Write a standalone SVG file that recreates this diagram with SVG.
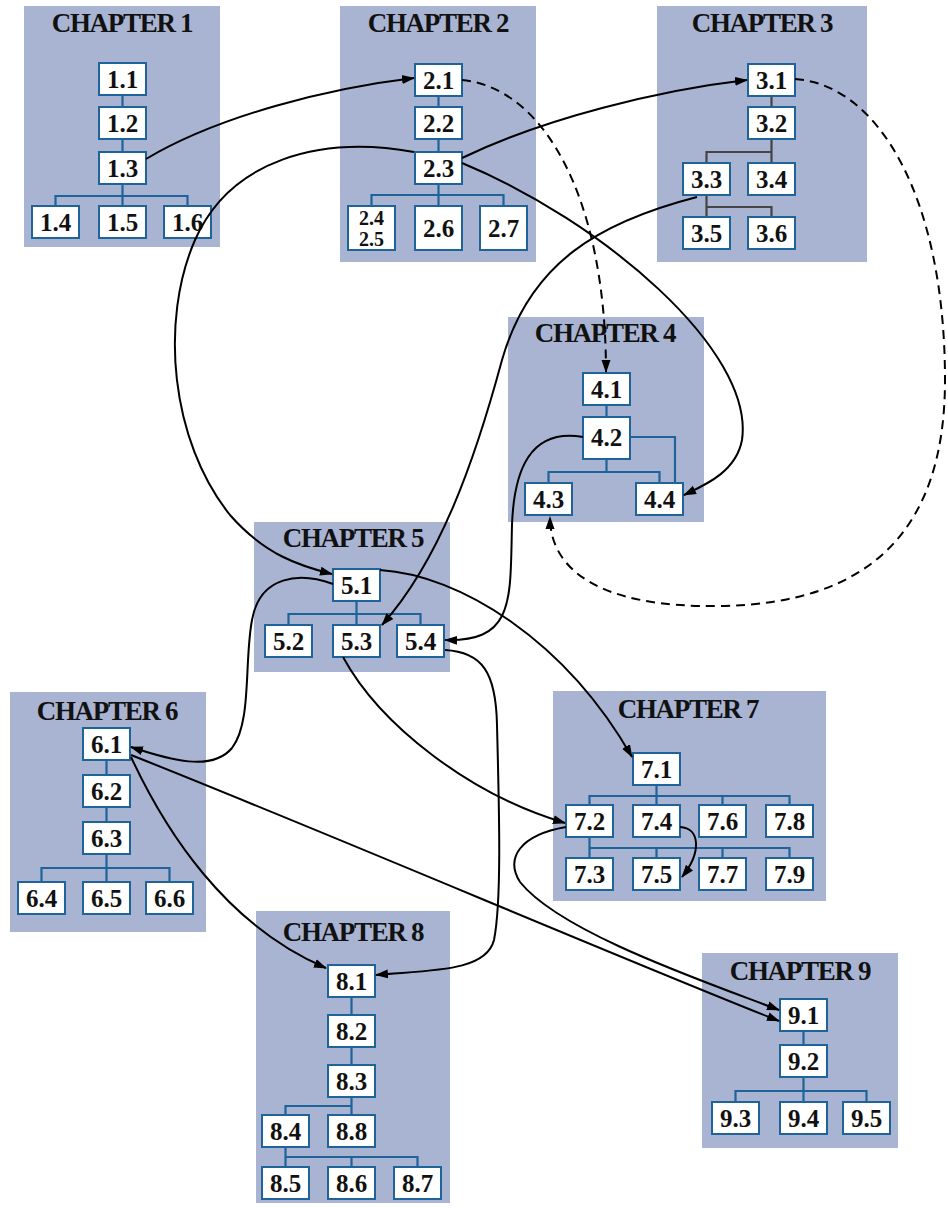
<svg xmlns="http://www.w3.org/2000/svg" width="948" height="1208" viewBox="0 0 948 1208">
<style>
.panel{fill:#a9b4d3}
.box rect{fill:#fff;stroke:#1f639b;stroke-width:2}
.box text{font-family:"Liberation Serif","Times New Roman",serif;font-weight:bold;font-size:25px;text-anchor:middle;fill:#111}
.box text.small{font-size:20px}
.title{font-family:"Liberation Serif","Times New Roman",serif;font-weight:bold;font-size:27px;letter-spacing:-1.3px;text-anchor:middle;fill:#111}
.tree{fill:none;stroke:#1f639b;stroke-width:2.2}
.tree.gray{stroke:#444}
.conn path{fill:none;stroke:#000;stroke-width:2;marker-end:url(#ah)}
.conn path.dash{stroke-dasharray:9 6}
</style>
<defs>
<marker id="ah" markerWidth="13" markerHeight="10" refX="12" refY="5" orient="auto" markerUnits="userSpaceOnUse"><path d="M0,0.5 L13,5 L0,9.5 z" fill="#000"/></marker>
</defs>
<rect width="948" height="1208" fill="#fff"/>

<g id="chapter1">
<rect class="panel" x="24" y="6" width="196" height="241"/>
<text class="title" x="122" y="32">CHAPTER 1</text>
<path class="tree" d="M122.5,95V107M122.5,139V152M122.5,184V196M55.5,206V196H187.5V206M122.5,196V206"/>
<g id="n1.1" class="box"><rect x="99" y="63" width="47" height="32"/><text x="122.5" y="88">1.1</text></g>
<g id="n1.2" class="box"><rect x="99" y="107" width="47" height="32"/><text x="122.5" y="132">1.2</text></g>
<g id="n1.3" class="box"><rect x="99" y="152" width="47" height="32"/><text x="122.5" y="177">1.3</text></g>
<g id="n1.4" class="box"><rect x="32" y="206" width="47" height="32"/><text x="55.5" y="231">1.4</text></g>
<g id="n1.5" class="box"><rect x="99" y="206" width="47" height="32"/><text x="122.5" y="231">1.5</text></g>
<g id="n1.6" class="box"><rect x="164" y="206" width="47" height="32"/><text x="187.5" y="231">1.6</text></g>
</g>

<g id="chapter2">
<rect class="panel" x="340" y="6" width="196" height="256"/>
<text class="title" x="438" y="32">CHAPTER 2</text>
<path class="tree" d="M438.5,96V107M438.5,139V152M438.5,184V195M371.5,206V195H503.5V206M438.5,195V206"/>
<g id="n2.1" class="box"><rect x="415" y="64" width="47" height="32"/><text x="438.5" y="89">2.1</text></g>
<g id="n2.2" class="box"><rect x="415" y="107" width="47" height="32"/><text x="438.5" y="132">2.2</text></g>
<g id="n2.3" class="box"><rect x="415" y="152" width="47" height="32"/><text x="438.5" y="177">2.3</text></g>
<g id="n2.4-2.5" class="box"><rect x="348" y="206" width="47" height="44"/><text class="small" x="371.5" y="225">2.4</text><text class="small" x="371.5" y="246">2.5</text></g>
<g id="n2.6" class="box"><rect x="415" y="206" width="47" height="44"/><text x="438.5" y="237">2.6</text></g>
<g id="n2.7" class="box"><rect x="480" y="206" width="47" height="44"/><text x="503.5" y="237">2.7</text></g>
</g>

<g id="chapter3">
<rect class="panel" x="657" y="6" width="210" height="256"/>
<text class="title" x="762" y="32">CHAPTER 3</text>
<path class="tree gray" d="M771.5,96V107M771.5,139V163M706.5,163V152H771.5M706.5,195V217M706.5,207H771.5V217"/>
<g id="n3.1" class="box"><rect x="748" y="64" width="47" height="32"/><text x="771.5" y="89">3.1</text></g>
<g id="n3.2" class="box"><rect x="748" y="107" width="47" height="32"/><text x="771.5" y="132">3.2</text></g>
<g id="n3.3" class="box"><rect x="683" y="163" width="47" height="32"/><text x="706.5" y="188">3.3</text></g>
<g id="n3.4" class="box"><rect x="748" y="163" width="47" height="32"/><text x="771.5" y="188">3.4</text></g>
<g id="n3.5" class="box"><rect x="683" y="217" width="47" height="32"/><text x="706.5" y="242">3.5</text></g>
<g id="n3.6" class="box"><rect x="748" y="217" width="47" height="32"/><text x="771.5" y="242">3.6</text></g>
</g>

<g id="chapter4">
<rect class="panel" x="508" y="317" width="196" height="205"/>
<text class="title" x="605" y="342">CHAPTER 4</text>
<path class="tree" d="M606.5,405V417M606.5,459V472M548.5,483V472H659.5V483M630,437H675V483"/>
<g id="n4.1" class="box"><rect x="583" y="373" width="47" height="32"/><text x="606.5" y="398">4.1</text></g>
<g id="n4.2" class="box"><rect x="583" y="417" width="47" height="42"/><text x="606.5" y="446">4.2</text></g>
<g id="n4.3" class="box"><rect x="525" y="483" width="47" height="32"/><text x="548.5" y="508">4.3</text></g>
<g id="n4.4" class="box"><rect x="636" y="483" width="47" height="32"/><text x="659.5" y="508">4.4</text></g>
</g>

<g id="chapter5">
<rect class="panel" x="254" y="522" width="196" height="150"/>
<text class="title" x="353" y="547">CHAPTER 5</text>
<path class="tree" d="M356.5,601V625M288.5,625V614H420.5V625"/>
<g id="n5.1" class="box"><rect x="333" y="569" width="47" height="32"/><text x="356.5" y="594">5.1</text></g>
<g id="n5.2" class="box"><rect x="265" y="625" width="47" height="32"/><text x="288.5" y="650">5.2</text></g>
<g id="n5.3" class="box"><rect x="333" y="625" width="47" height="32"/><text x="356.5" y="650">5.3</text></g>
<g id="n5.4" class="box"><rect x="397" y="625" width="47" height="32"/><text x="420.5" y="650">5.4</text></g>
</g>

<g id="chapter6">
<rect class="panel" x="10" y="692" width="196" height="240"/>
<text class="title" x="107" y="720">CHAPTER 6</text>
<path class="tree" d="M106.5,760V775M106.5,807V822M106.5,854V882M41.5,882V868H169.5V882"/>
<g id="n6.1" class="box"><rect x="83" y="728" width="47" height="32"/><text x="106.5" y="753">6.1</text></g>
<g id="n6.2" class="box"><rect x="83" y="775" width="47" height="32"/><text x="106.5" y="800">6.2</text></g>
<g id="n6.3" class="box"><rect x="83" y="822" width="47" height="32"/><text x="106.5" y="847">6.3</text></g>
<g id="n6.4" class="box"><rect x="18" y="882" width="47" height="32"/><text x="41.5" y="907">6.4</text></g>
<g id="n6.5" class="box"><rect x="83" y="882" width="47" height="32"/><text x="106.5" y="907">6.5</text></g>
<g id="n6.6" class="box"><rect x="146" y="882" width="47" height="32"/><text x="169.5" y="907">6.6</text></g>
</g>

<g id="chapter7">
<rect class="panel" x="553" y="691" width="273" height="210"/>
<text class="title" x="688" y="718">CHAPTER 7</text>
<path class="tree" d="M656.5,785V805M589.5,805V796H789.5V805M722.5,796V805M589.5,837V858M589.5,848H789.5V858M656.5,848V858M722.5,848V858"/>
<g id="n7.1" class="box"><rect x="633" y="753" width="47" height="32"/><text x="656.5" y="778">7.1</text></g>
<g id="n7.2" class="box"><rect x="566" y="805" width="47" height="32"/><text x="589.5" y="830">7.2</text></g>
<g id="n7.4" class="box"><rect x="633" y="805" width="47" height="32"/><text x="656.5" y="830">7.4</text></g>
<g id="n7.6" class="box"><rect x="699" y="805" width="47" height="32"/><text x="722.5" y="830">7.6</text></g>
<g id="n7.8" class="box"><rect x="766" y="805" width="47" height="32"/><text x="789.5" y="830">7.8</text></g>
<g id="n7.3" class="box"><rect x="566" y="858" width="47" height="32"/><text x="589.5" y="883">7.3</text></g>
<g id="n7.5" class="box"><rect x="633" y="858" width="47" height="32"/><text x="656.5" y="883">7.5</text></g>
<g id="n7.7" class="box"><rect x="699" y="858" width="47" height="32"/><text x="722.5" y="883">7.7</text></g>
<g id="n7.9" class="box"><rect x="766" y="858" width="47" height="32"/><text x="789.5" y="883">7.9</text></g>
</g>

<g id="chapter8">
<rect class="panel" x="256" y="911" width="194" height="292"/>
<text class="title" x="353" y="941">CHAPTER 8</text>
<path class="tree" d="M351.5,997V1015M351.5,1047V1065M351.5,1097V1115M285.5,1115V1106H351.5M285.5,1147V1167M285.5,1157H417.5V1167M351.5,1157V1167"/>
<g id="n8.1" class="box"><rect x="328" y="965" width="47" height="32"/><text x="351.5" y="990">8.1</text></g>
<g id="n8.2" class="box"><rect x="328" y="1015" width="47" height="32"/><text x="351.5" y="1040">8.2</text></g>
<g id="n8.3" class="box"><rect x="328" y="1065" width="47" height="32"/><text x="351.5" y="1090">8.3</text></g>
<g id="n8.4" class="box"><rect x="262" y="1115" width="47" height="32"/><text x="285.5" y="1140">8.4</text></g>
<g id="n8.8" class="box"><rect x="328" y="1115" width="47" height="32"/><text x="351.5" y="1140">8.8</text></g>
<g id="n8.5" class="box"><rect x="262" y="1167" width="47" height="32"/><text x="285.5" y="1192">8.5</text></g>
<g id="n8.6" class="box"><rect x="328" y="1167" width="47" height="32"/><text x="351.5" y="1192">8.6</text></g>
<g id="n8.7" class="box"><rect x="394" y="1167" width="47" height="32"/><text x="417.5" y="1192">8.7</text></g>
</g>

<g id="chapter9">
<rect class="panel" x="702" y="953" width="196" height="195"/>
<text class="title" x="800" y="980">CHAPTER 9</text>
<path class="tree" d="M803.5,1031V1045M803.5,1077V1102M735.5,1102V1091H866.5V1102"/>
<g id="n9.1" class="box"><rect x="780" y="999" width="47" height="32"/><text x="803.5" y="1024">9.1</text></g>
<g id="n9.2" class="box"><rect x="780" y="1045" width="47" height="32"/><text x="803.5" y="1070">9.2</text></g>
<g id="n9.3" class="box"><rect x="712" y="1102" width="47" height="32"/><text x="735.5" y="1127">9.3</text></g>
<g id="n9.4" class="box"><rect x="780" y="1102" width="47" height="32"/><text x="803.5" y="1127">9.4</text></g>
<g id="n9.5" class="box"><rect x="843" y="1102" width="47" height="32"/><text x="866.5" y="1127">9.5</text></g>
</g>

<g id="connectors" class="conn">
<path d="M146,159 C 220,115 330,88 414,78"/>
<path class="dash" d="M462,80 C 545,88 606,200 606,372"/>
<path class="dash" d="M795,79 C 880,85 945,200 945,380 C 945,530 870,604 720,606 C 600,608 550,570 550,517"/>
<path d="M462,158 C 545,118 660,90 747,80"/>
<path d="M462,163 C 600,220 755,350 742,440 C 736,472 705,485 684,495"/>
<path d="M414,152 C 320,135 230,160 195,240 C 160,320 170,440 230,515 C 265,555 300,566 332,574"/>
<path d="M697,197 C 600,222 530,262 502,360 C 475,460 440,560 382,625"/>
<path d="M583,437 C 530,428 514,470 512,525 C 510,600 515,642 445,640"/>
<path d="M333,584 C 300,572 260,575 252,620 C 244,662 252,722 232,748 C 212,772 170,760 131,747"/>
<path d="M380,570 C 460,575 565,640 632,757"/>
<path d="M343,657 C 380,725 470,795 565,823"/>
<path d="M445,650 C 482,652 496,672 497,725 C 499,805 502,900 494,940 C 486,972 430,970 376,975"/>
<path d="M131,757 C 165,830 225,925 326,968"/>
<path d="M131,755 C 350,842 600,950 779,1021"/>
<path d="M566,827 C 520,835 505,858 520,882 C 560,932 700,980 779,1010"/>
<path d="M680,827 C 700,828 702,852 682,877"/>
</g>
</svg>
